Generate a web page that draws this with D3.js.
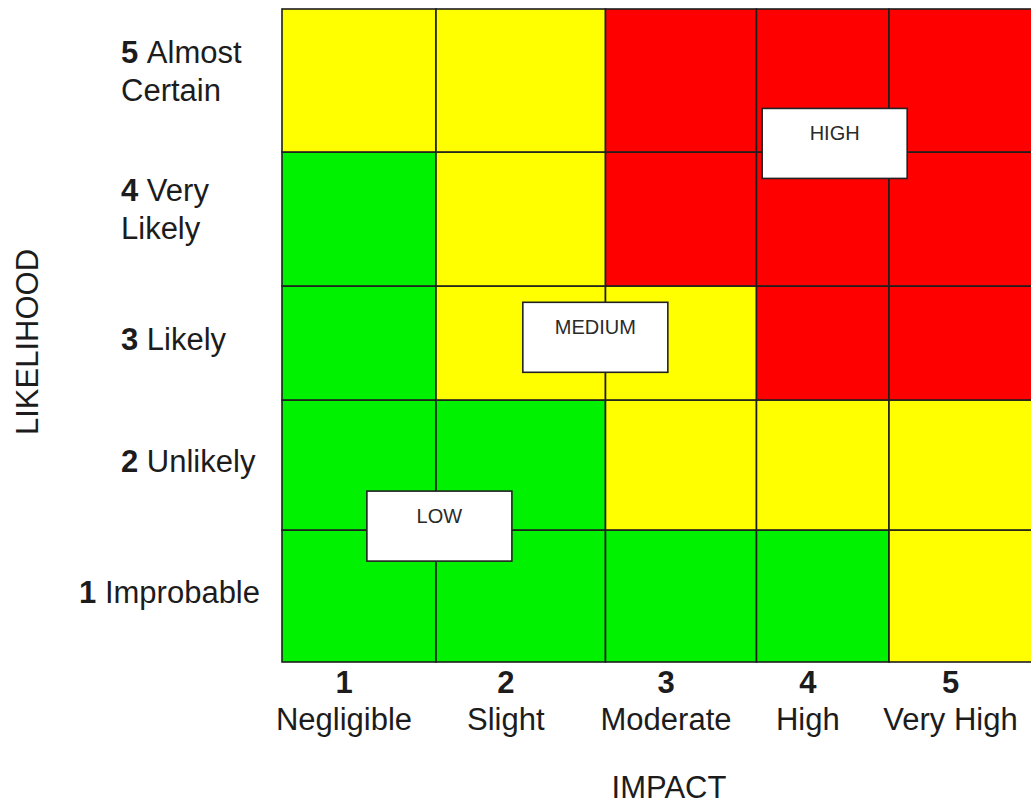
<!DOCTYPE html>
<html>
<head>
<meta charset="utf-8">
<script src="https://cdn.jsdelivr.net/npm/d3@7/dist/d3.min.js"></script>
<style>
  html, body { margin: 0; padding: 0; background: #ffffff; }
  svg { display: block; font-family: "Liberation Sans", Arial, sans-serif; }
</style>
</head>
<body>
<svg id="chart" width="1031" height="804"></svg>
<script>
// ---- data ----
const impactLevels = [1, 2, 3, 4, 5];
const impactNames = ["Negligible", "Slight", "Moderate", "High", "Very High"];
const likelihoodLevels = [1, 2, 3, 4, 5];
const likelihoodNames = ["Improbable", "Unlikely", "Likely", "Very Likely", "Almost Certain"];

// risk rating per likelihood row (1..5), across impact columns (1..5)
const ratingL1 = ["low", "low", "low", "low", "medium"];
const ratingL2 = ["low", "low", "medium", "medium", "medium"];
const ratingL3 = ["low", "medium", "medium", "high", "high"];
const ratingL4 = ["low", "medium", "high", "high", "high"];
const ratingL5 = ["medium", "medium", "high", "high", "high"];
const ratings = [ratingL1, ratingL2, ratingL3, ratingL4, ratingL5];

// zone call-outs, placed in (impact, likelihood) space
const zoneLabels = ["LOW", "MEDIUM", "HIGH"];
const zoneImpact = [1.52, 2.44, 4.09];
const zoneLikelihood = [1.53, 3.05, 4.56];

// ---- layout ----
const colEdges = [282, 436, 605.5, 756.5, 889, 1042];
const rowEdges = [662, 530, 400, 286, 152, 9];
const levelEdges = [0.5, 1.5, 2.5, 3.5, 4.5, 5.5];

const x = d3.scaleLinear().domain(levelEdges).range(colEdges);
const y = d3.scaleLinear().domain(levelEdges).range(rowEdges);
const fill = d3.scaleOrdinal()
  .domain(["low", "medium", "high"])
  .range(["#00f200", "#ffff00", "#ff0000"]);

const textColor = "#1c1c1c";
const lineColor = "#1e1e1e";
const fontSize = 31;

const svg = d3.select("#chart");

// ---- cells ----
const cells = [];
likelihoodLevels.forEach((l, li) => {
  impactLevels.forEach((im, ii) => {
    cells.push({ impact: im, likelihood: l, rating: ratings[li][ii] });
  });
});

svg.append("g").selectAll("rect")
  .data(cells)
  .join("rect")
  .attr("x", d => x(d.impact - 0.5))
  .attr("y", d => y(d.likelihood + 0.5))
  .attr("width", d => x(d.impact + 0.5) - x(d.impact - 0.5))
  .attr("height", d => y(d.likelihood - 0.5) - y(d.likelihood + 0.5))
  .attr("fill", d => fill(d.rating))
  .attr("stroke", lineColor)
  .attr("stroke-width", 1.6);

// ---- zone boxes ----
const boxW = 145, boxH = 70;
const zones = zoneLabels.map((t, i) => ({ label: t, impact: zoneImpact[i], likelihood: zoneLikelihood[i] }));
const zg = svg.append("g").selectAll("g")
  .data(zones)
  .join("g")
  .attr("transform", d => `translate(${x(d.impact)},${y(d.likelihood)})`);
zg.append("rect")
  .attr("x", -boxW / 2).attr("y", -boxH / 2)
  .attr("width", boxW).attr("height", boxH)
  .attr("fill", "#ffffff")
  .attr("stroke", "#222")
  .attr("stroke-width", 1.6);
zg.append("text")
  .attr("text-anchor", "middle")
  .attr("y", -3)
  .attr("font-size", 20)
  .attr("fill", "#2a2a2a")
  .text(d => d.label);

// ---- impact axis labels ----
const xl = svg.append("g").selectAll("g")
  .data(impactLevels)
  .join("g")
  .attr("transform", d => `translate(${x(d) - 15},0)`);
xl.append("text")
  .attr("text-anchor", "middle")
  .attr("y", 693)
  .attr("font-size", fontSize)
  .attr("font-weight", "bold")
  .attr("fill", textColor)
  .text(d => d);
xl.append("text")
  .attr("text-anchor", "middle")
  .attr("y", 730)
  .attr("font-size", fontSize)
  .attr("fill", textColor)
  .text((d, i) => impactNames[i]);

// ---- likelihood axis labels ----
const labelLeft = 121, labelRight = 260;
likelihoodLevels.forEach((l, i) => {
  const words = likelihoodNames[i].split(" ");
  const cy = y(l);
  const t = svg.append("text")
    .attr("font-size", fontSize)
    .attr("fill", textColor)
    .attr("x", labelLeft);
  if (words.length > 1) {
    t.attr("y", cy - 18);
    t.append("tspan").attr("font-weight", "bold").text(l + " ");
    t.append("tspan").text(words[0]);
    svg.append("text")
      .attr("font-size", fontSize)
      .attr("fill", textColor)
      .attr("x", labelLeft)
      .attr("y", cy + 20)
      .text(words.slice(1).join(" "));
  } else {
    t.attr("y", cy + 7);
    t.append("tspan").attr("font-weight", "bold").text(l + " ");
    t.append("tspan").text(words[0]);
    const w = t.node().getComputedTextLength();
    if (labelLeft + w > labelRight) {
      t.attr("x", labelRight).attr("text-anchor", "end");
    }
  }
});

// ---- axis titles ----
svg.append("text")
  .attr("text-anchor", "middle")
  .attr("x", 669)
  .attr("y", 798)
  .attr("font-size", fontSize)
  .attr("fill", textColor)
  .text("IMPACT");

svg.append("text")
  .attr("text-anchor", "middle")
  .attr("transform", "translate(38,342) rotate(-90)")
  .attr("font-size", fontSize)
  .attr("fill", textColor)
  .text("LIKELIHOOD");
</script>
</body>
</html>
